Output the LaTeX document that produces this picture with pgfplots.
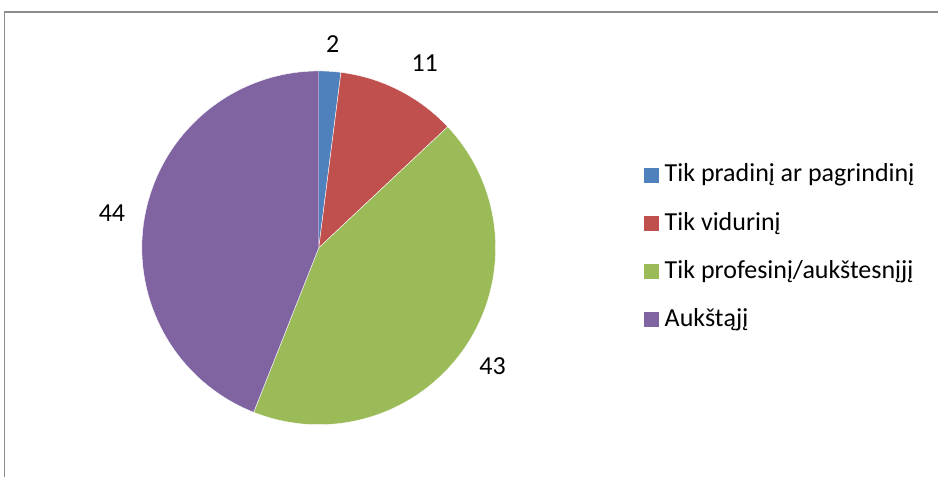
\documentclass[border=0pt]{standalone}
\usepackage{fontspec}
\setmainfont{Carlito}
\usepackage{pgfplots}
\pgfplotsset{compat=1.18}
\definecolor{c1}{HTML}{4F81BD}
\definecolor{c2}{HTML}{C0504D}
\definecolor{c3}{HTML}{9BBB59}
\definecolor{c4}{HTML}{8064A2}
\definecolor{frame}{HTML}{8C8C8C}
\begin{document}
\begin{tikzpicture}
\begin{axis}[x=1pt,y=1pt,xmin=0,xmax=939,ymin=0,ymax=477,hide axis,clip=false]
\path (axis cs:0,0) rectangle (axis cs:939,477);
\draw[frame,line width=1.3pt] (axis cs:4.5,0) -- (axis cs:4.5,465) -- (axis cs:939,465);
\pgfplotsextra{
  \gdef\curang{90}
  % value / colour / label x / label baseline y (pixels from top)
  \foreach \v/\c/\lx/\ly in {2/c1/333/53, 11/c2/425/72, 43/c3/493/375, 44/c4/112/222}{
    \pgfmathsetmacro\nextang{\curang-3.6*\v}
    \fill[\c,draw=white,line width=0.4pt] (axis cs:319,229) -- ++(\curang:177pt)
      arc[start angle=\curang,end angle=\nextang,radius=177pt] -- cycle;
    \pgfmathsetmacro\ly{477-\ly}
    \node[anchor=base,inner sep=0pt,font=\fontsize{26}{30}\selectfont] at (axis cs:\lx,\ly) {\v};
    \global\let\curang\nextang
  }
}
% legend
\fill[c1] (axis cs:644,294) rectangle (axis cs:659,309);
\node[anchor=base west,inner sep=0pt,font=\fontsize{26}{30}\selectfont] at (axis cs:665,295) {Tik pradinį ar pagrindinį};
\fill[c2] (axis cs:644,246) rectangle (axis cs:659,261);
\node[anchor=base west,inner sep=0pt,font=\fontsize{26}{30}\selectfont] at (axis cs:665,246) {Tik vidurinį};
\fill[c3] (axis cs:644,198) rectangle (axis cs:659,213);
\node[anchor=base west,inner sep=0pt,font=\fontsize{26}{30}\selectfont] at (axis cs:665,198) {Tik profesinį/aukštesnįjį};
\fill[c4] (axis cs:644,150) rectangle (axis cs:659,165);
\node[anchor=base west,inner sep=0pt,font=\fontsize{26}{30}\selectfont] at (axis cs:665,150) {Aukštąjį};
\end{axis}
\end{tikzpicture}
\end{document}
